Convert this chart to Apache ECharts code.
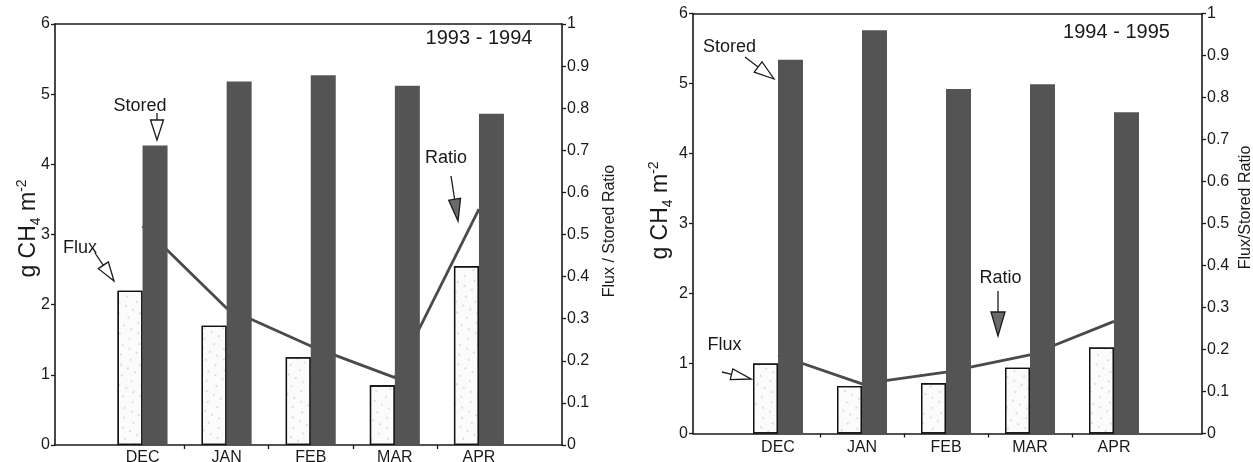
<!DOCTYPE html>
<html>
<head>
<meta charset="utf-8">
<script src="https://cdn.jsdelivr.net/npm/echarts@6/dist/echarts.min.js"></script>
<style>html,body{margin:0;padding:0;background:#fff}#c{width:1253px;height:462px}</style>
</head>
<body>
<div id="c"></div>
<script>
// ---- data ----
const months = ['DEC', 'JAN', 'FEB', 'MAR', 'APR'];
const flux9394 = [2.2, 1.7, 1.25, 0.85, 2.55];
const stored9394 = [4.27, 5.18, 5.27, 5.12, 4.72];
const ratio9394 = [0.52, 0.325, 0.235, 0.16, 0.56];
const flux9495 = [1.0, 0.68, 0.72, 0.94, 1.23];
const stored9495 = [5.34, 5.76, 4.92, 4.99, 4.59];
const ratio9495 = [0.187, 0.118, 0.146, 0.187, 0.267];
const leftAxisMax = 6;
const rightAxisMax = 1;
const monthBoundaries = [0.5, 1.5, 2.5, 3.5];   // x ticks between months (category units)
const panelTitles = ['1993 - 1994', '1994 - 1995'];
const ratioNames = ['Flux / Stored Ratio', 'Flux/Stored Ratio'];

const FONT = '"Liberation Sans", Arial, Helvetica, sans-serif';
const INK = '#1a1a1a';
const DARK = '#545454';

const panels = [
  { frame: { left: 55, width: 507, top: 24, height: 421 }, data: { left: 100.5, width: 420.5 },
    flux: flux9394, stored: stored9394, ratio: ratio9394, lpad: 12, rpad: 7, lgap: 12, rgap: 40, xm: 5 },
  { frame: { left: 693, width: 509, top: 13.5, height: 420 }, data: { left: 736, width: 420 },
    flux: flux9495, stored: stored9495, ratio: ratio9495, lpad: 26, rpad: 32, lgap: 18, rgap: 36, xm: 6 }
];

const grid = [], xAxis = [], yAxis = [], series = [];
panels.forEach((p, i) => {
  const gF = grid.length;
  grid.push({ left: p.frame.left, top: p.frame.top, width: p.frame.width, height: p.frame.height,
    containLabel: false, outerBoundsMode: 'none' });
  const gD = grid.length;
  grid.push({ left: p.data.left, top: p.frame.top, width: p.data.width, height: p.frame.height,
    containLabel: false, outerBoundsMode: 'none' });
  // frame x-axis expressed in category units so its ticks fall between months
  const band = p.data.width / months.length;
  const fMin = -0.5 - (p.data.left - p.frame.left) / band;
  const fMax = months.length - 0.5 + ((p.frame.left + p.frame.width) - (p.data.left + p.data.width)) / band;
  const lineOnly = { show: true, onZero: false, lineStyle: { color: INK, width: 1.6 } };
  xAxis.push({ gridIndex: gF, type: 'value', min: fMin, max: fMax, position: 'bottom',
    axisLine: lineOnly,
    axisTick: { show: true, length: 4, customValues: monthBoundaries, lineStyle: { color: INK, width: 1.3 } },
    axisLabel: { show: false }, splitLine: { show: false } });
  xAxis.push({ gridIndex: gF, type: 'value', min: 0, max: 1, position: 'top',
    axisLine: lineOnly, axisTick: { show: false }, axisLabel: { show: false }, splitLine: { show: false } });
  const xCat = xAxis.length;
  xAxis.push({ gridIndex: gD, type: 'category', data: months, boundaryGap: true,
    axisLine: { show: false, onZero: false }, axisTick: { show: false },
    axisLabel: { fontSize: 16, fontFamily: FONT, color: INK, margin: p.xm },
    splitLine: { show: false } });
  yAxis.push({ gridIndex: gF, type: 'value', position: 'left', min: 0, max: leftAxisMax, interval: 1,
    axisLine: lineOnly, axisTick: { show: true, length: 4, lineStyle: { color: INK, width: 1.3 } },
    axisLabel: { fontSize: 16, fontFamily: FONT, color: INK, margin: 5 },
    splitLine: { show: false },
    name: '{a|g CH}{s|4}{a| m}{p|-2}', nameLocation: 'middle', nameRotate: 90, nameGap: p.lgap,
    nameMoveOverlap: false,
    nameTextStyle: { padding: [0, 0, 0, p.lpad], rich: {
      a: { fontSize: 23, fontFamily: FONT, color: INK, lineHeight: 28 },
      s: { fontSize: 14, fontFamily: FONT, color: INK, verticalAlign: 'bottom', lineHeight: 15 },
      p: { fontSize: 14, fontFamily: FONT, color: INK, verticalAlign: 'top', lineHeight: 15 } } } });
  yAxis.push({ gridIndex: gF, type: 'value', position: 'right', min: 0, max: rightAxisMax, interval: 0.1,
    axisLine: lineOnly, axisTick: { show: true, length: 4, lineStyle: { color: INK, width: 1.3 } },
    axisLabel: { fontSize: 16, fontFamily: FONT, color: INK, margin: 5 },
    splitLine: { show: false },
    name: ratioNames[i], nameLocation: 'middle', nameRotate: 90, nameGap: p.rgap,
    nameMoveOverlap: false,
    nameTextStyle: { fontSize: 16, fontFamily: FONT, color: INK, padding: [0, 0, 0, p.rpad] } });
  const yL = yAxis.length;
  yAxis.push({ gridIndex: gD, type: 'value', min: 0, max: leftAxisMax, show: false,
    axisLine: { onZero: false }, splitLine: { show: false } });
  const yR = yAxis.length;
  yAxis.push({ gridIndex: gD, type: 'value', min: 0, max: rightAxisMax, show: false,
    axisLine: { onZero: false }, splitLine: { show: false } });

  series.push({ type: 'line', name: 'Ratio', xAxisIndex: xCat, yAxisIndex: yR, data: p.ratio,
    symbol: 'none', z: 1, lineStyle: { color: '#4a4a4a', width: 2.8 }, silent: true });
  series.push({ type: 'bar', name: 'Flux', xAxisIndex: xCat, yAxisIndex: yL, data: p.flux,
    barWidth: 25, barGap: '0%', z: 3,
    itemStyle: { color: '#fbfbfb', borderColor: '#111', borderWidth: 1.3,
      decal: { symbol: 'circle', symbolSize: 0.6, dashArrayX: [[2, 6], [2, 9]], dashArrayY: [2, 7],
        rotation: 0.5, color: 'rgba(70,70,70,0.7)' } } });
  series.push({ type: 'bar', name: 'Stored', xAxisIndex: xCat, yAxisIndex: yL, data: p.stored,
    barWidth: 25, barGap: '0%', z: 3, itemStyle: { color: DARK } });
});

function arrow(x1, y1, x2, y2, L, W, filled) {
  const dx = x2 - x1, dy = y2 - y1, len = Math.hypot(dx, dy);
  const ux = dx / len, uy = dy / len, px = -uy, py = ux;
  const bx = x2 - ux * L, by = y2 - uy * L;
  return [
    { type: 'line', z: 100, shape: { x1: x1, y1: y1, x2: bx, y2: by }, style: { stroke: INK, lineWidth: 1.3 } },
    { type: 'polygon', z: 100, shape: { points: [[x2, y2], [bx + px * W / 2, by + py * W / 2], [bx - px * W / 2, by - py * W / 2]] },
      style: { fill: filled ? '#6a6a6a' : '#ffffff', stroke: INK, lineWidth: 1.3 } }
  ];
}
function label(text, x, y, size) {
  return { type: 'text', z: 100, x: x, y: y,
    style: { text: text, font: size + 'px ' + FONT, fill: INK, align: 'center', verticalAlign: 'middle',
      textAlign: 'center', textVerticalAlign: 'middle' } };
}

const graphic = [
  label(panelTitles[0], 479, 38, 20),
  label(panelTitles[1], 1116.5, 32, 20),
  label('Stored', 140, 106, 18), ...arrow(157, 113, 157, 140, 20, 13, false),
  label('Flux', 80, 248, 18), ...arrow(95, 253, 114, 281, 19, 12, false),
  label('Ratio', 446, 158, 18), ...arrow(451, 176, 458, 221, 22, 12, true),
  label('Stored', 729.5, 47, 18), ...arrow(745, 57, 774, 79, 20, 13, false),
  label('Flux', 724.5, 345, 18), ...arrow(722, 372, 751, 379, 20, 11, false),
  label('Ratio', 1000.5, 278, 18), ...arrow(998, 291, 998, 336, 24, 14, true)
];

const chart = echarts.init(document.getElementById('c'), null, { renderer: 'canvas' });
chart.setOption({
  animation: false,
  backgroundColor: '#ffffff',
  grid: grid, xAxis: xAxis, yAxis: yAxis, series: series, graphic: graphic
});
</script>
</body>
</html>
